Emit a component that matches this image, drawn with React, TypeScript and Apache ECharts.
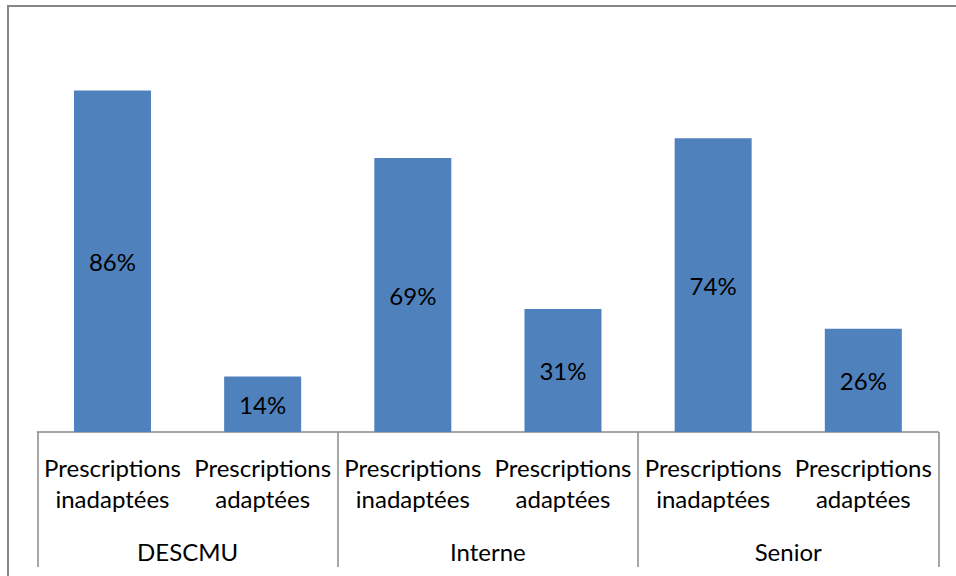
import React, { useEffect, useRef } from "react";
import * as echarts from "echarts";

const categories = [
  "Prescriptions\ninadaptées",
  "Prescriptions\nadaptées",
  "Prescriptions\ninadaptées",
  "Prescriptions\nadaptées",
  "Prescriptions\ninadaptées",
  "Prescriptions\nadaptées",
];
const groups = ["DESCMU", "Interne", "Senior"];
const values = [86, 14, 69, 31, 74, 26];

const FONT = "Lato, 'Open Sans', sans-serif";

export default function App() {
  const ref = useRef<HTMLDivElement>(null);
  useEffect(() => {
    if (!ref.current) return;
    const chart = echarts.init(ref.current, undefined, { renderer: "svg" });
    chart.setOption({
      animation: false,
      backgroundColor: "#ffffff",
      grid: { left: 37.4, right: 17.6, top: 35, bottom: 144 },
      xAxis: [
        {
          type: "category",
          data: categories,
          position: "bottom",
          axisLine: { show: true, lineStyle: { color: "#898989", width: 1.5 } },
          axisTick: { show: false },
          axisLabel: {
            interval: 0,
            margin: 20,
            color: "#000",
            fontFamily: FONT,
            fontSize: 24,
            lineHeight: 31,
          },
        },
        {
          type: "category",
          data: groups,
          position: "bottom",
          axisLine: { show: false },
          axisTick: {
            show: true,
            interval: 0,
            length: 135,
            lineStyle: { color: "#898989", width: 1.5 },
          },
          axisLabel: {
            interval: 0,
            margin: 104,
            color: "#000",
            fontFamily: FONT,
            fontSize: 24,
            lineHeight: 31,
          },
        },
      ],
      yAxis: { type: "value", min: 0, max: 100, show: false, splitLine: { show: false } },
      series: [
        {
          type: "bar",
          xAxisIndex: 0,
          data: values,
          barWidth: 77,
          itemStyle: { color: "#4F81BD" },
          label: {
            show: true,
            position: "inside",
            formatter: "{c}%",
            color: "#000",
            fontFamily: FONT,
            fontSize: 24,
          },
        },
      ],
      graphic: [
        {
          type: "line",
          shape: { x1: 7, y1: 6, x2: 956, y2: 6 },
          style: { stroke: "#868686", lineWidth: 2 },
        },
        {
          type: "line",
          shape: { x1: 8, y1: 5, x2: 8, y2: 576 },
          style: { stroke: "#868686", lineWidth: 2 },
        },
      ],
    });
    return () => chart.dispose();
  }, []);
  return (
    <div
      ref={ref}
      style={{ position: "absolute", left: 0, top: 0, width: 956, height: 576 }}
    />
  );
}
